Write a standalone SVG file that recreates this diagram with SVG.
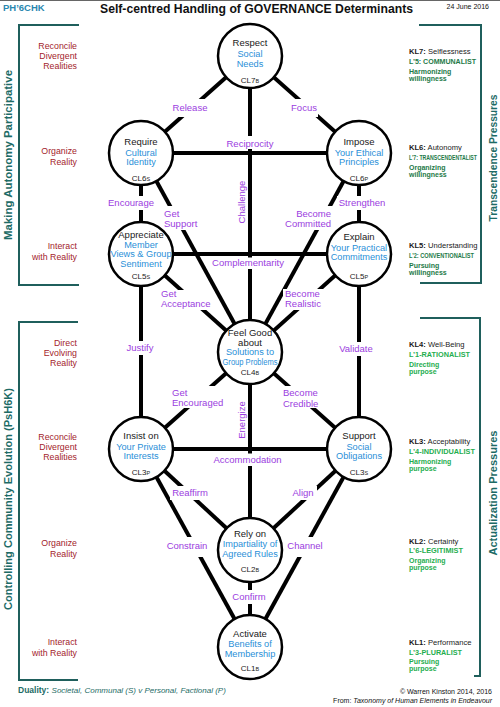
<svg xmlns="http://www.w3.org/2000/svg" width="500" height="707" viewBox="0 0 500 707">
<style>
text{font-family:"Liberation Sans",Arial,sans-serif}
.node circle{fill:#fff;stroke:#000;stroke-width:2.5}
.k{font-size:9.5px;fill:#1a1a1a;text-anchor:middle}
.b{font-size:9.2px;fill:#2a8fd8;text-anchor:middle}
.cl{font-size:8px;fill:#1a1a1a;text-anchor:middle}
.sub{font-size:5.5px}
.lb{font-size:9.5px;fill:#9b3de0}
.m{text-anchor:middle}
.e{text-anchor:end}
.red{font-size:8.8px;fill:#a3242c;text-anchor:end}
.kl{font-size:7.6px;fill:#1a1a1a}
.lg{font-size:8px;font-weight:bold}
.sm{font-size:7px;font-weight:bold}
.dg{fill:#1e7a48}
.bg{fill:#1fae4f}
.side{font-size:11px;font-weight:bold;fill:#1d6b66;text-anchor:middle}
.br{fill:none;stroke:#1f5f5c;stroke-width:2}
#connectors line{stroke:#000;stroke-width:4}
</style>
<defs>
<mask id="gaps" maskUnits="userSpaceOnUse" x="0" y="0" width="500" height="707">
<rect width="500" height="707" fill="#fff"/>
<g fill="#000">
<rect x="172" y="99" width="36" height="18"/>
<rect x="290" y="99" width="28" height="18"/>
<rect x="225" y="136" width="50" height="13"/>
<rect x="106" y="196" width="50" height="14"/>
<rect x="337" y="196" width="50" height="14"/>
<rect x="162" y="206" width="38" height="24"/>
<rect x="283" y="206" width="50" height="24"/>
<rect x="210" y="257.5" width="76" height="11.5"/>
<rect x="159" y="290" width="54" height="20"/>
<rect x="283" y="289" width="40" height="21"/>
<rect x="124" y="341" width="32" height="14"/>
<rect x="337" y="342" width="38" height="14"/>
<rect x="170" y="386" width="55" height="22"/>
<rect x="281" y="386" width="39" height="22"/>
<rect x="211" y="453.5" width="73" height="12.5"/>
<rect x="170" y="486" width="40" height="14"/>
<rect x="290" y="486" width="27" height="14"/>
<rect x="165" y="537" width="45" height="20"/>
<rect x="285" y="537" width="40" height="20"/>
<rect x="230" y="590" width="38" height="14"/>
</g>
</mask>
</defs>
<rect width="500" height="707" fill="#fff"/>
<line x1="0" y1="0.5" x2="500" y2="0.5" stroke="#666" stroke-width="1"/>

<g id="header">
<text x="3" y="11" font-size="9.5" font-weight="bold" fill="#2a88b0">PH’6CHK</text>
<text x="256.5" y="12.5" font-size="12.5" font-weight="bold" fill="#111" text-anchor="middle" textLength="313" lengthAdjust="spacingAndGlyphs">Self-centred Handling of GOVERNANCE Determinants</text>
<text x="489" y="8.5" font-size="7" fill="#111" text-anchor="end">24 June 2016</text>
</g>

<g id="brackets">
<path class="br" d="M79,25 H19 V285 H79"/>
<path class="br" d="M78,322 H19 V680 H78"/>
<path class="br" d="M419,25 H481 V283 H420"/>
<path class="br" d="M420,318 H480 V676 H474"/>
<text class="side" transform="translate(12,155) rotate(-90)" textLength="170" lengthAdjust="spacingAndGlyphs">Making Autonomy Participative</text>
<text class="side" transform="translate(12,499) rotate(-90)" textLength="222" lengthAdjust="spacingAndGlyphs">Controlling Community Evolution (PsH6K)</text>
<text class="side" transform="translate(497,158) rotate(-90)" textLength="127" lengthAdjust="spacingAndGlyphs">Transcendence Pressures</text>
<text class="side" transform="translate(497,493) rotate(-90)" textLength="125" lengthAdjust="spacingAndGlyphs">Actualization Pressures</text>
</g>

<g id="left-labels">
<text class="red" x="77" y="49">Reconcile</text>
<text class="red" x="77" y="59">Divergent</text>
<text class="red" x="77" y="69">Realities</text>
<text class="red" x="77" y="154">Organize</text>
<text class="red" x="77" y="165">Reality</text>
<text class="red" x="77" y="249">Interact</text>
<text class="red" x="77" y="260">with Reality</text>
<text class="red" x="77" y="346">Direct</text>
<text class="red" x="77" y="356">Evolving</text>
<text class="red" x="77" y="366">Reality</text>
<text class="red" x="77" y="440">Reconcile</text>
<text class="red" x="77" y="450">Divergent</text>
<text class="red" x="77" y="460">Realities</text>
<text class="red" x="77" y="546">Organize</text>
<text class="red" x="77" y="557">Reality</text>
<text class="red" x="77" y="645">Interact</text>
<text class="red" x="77" y="656">with Reality</text>
</g>

<g id="right-labels">
<text class="kl" x="409" y="54"><tspan font-weight="bold">KL7:</tspan> Selflessness</text>
<text class="lg dg" x="409" y="63.5" textLength="67" lengthAdjust="spacingAndGlyphs">L’5: COMMUNALIST</text>
<text class="sm dg" x="409" y="73.5">Harmonizing</text>
<text class="sm dg" x="409" y="81">willingness</text>

<text class="kl" x="409" y="150"><tspan font-weight="bold">KL6:</tspan> Autonomy</text>
<text class="lg dg" x="409" y="160" style="font-size:6.6px" textLength="68" lengthAdjust="spacingAndGlyphs">L’7: TRANSCENDENTALIST</text>
<text class="sm dg" x="409" y="169.5">Organizing</text>
<text class="sm dg" x="409" y="177">willingness</text>

<text class="kl" x="409" y="248"><tspan font-weight="bold">KL5:</tspan> Understanding</text>
<text class="lg dg" x="409" y="258" textLength="65" lengthAdjust="spacingAndGlyphs">L’2: CONVENTIONALIST</text>
<text class="sm dg" x="409" y="267.5">Pursuing</text>
<text class="sm dg" x="409" y="275">willingness</text>

<text class="kl" x="409" y="347"><tspan font-weight="bold">KL4:</tspan> Well-Being</text>
<text class="lg bg" x="409" y="357" textLength="61" lengthAdjust="spacingAndGlyphs">L’1-RATIONALIST</text>
<text class="sm bg" x="409" y="366.5">Directing</text>
<text class="sm bg" x="409" y="374">purpose</text>

<text class="kl" x="409" y="444"><tspan font-weight="bold">KL3:</tspan> Acceptability</text>
<text class="lg bg" x="409" y="454" textLength="66" lengthAdjust="spacingAndGlyphs">L’4-INDIVIDUALIST</text>
<text class="sm bg" x="409" y="463.5">Harmonizing</text>
<text class="sm bg" x="409" y="471">purpose</text>

<text class="kl" x="409" y="544"><tspan font-weight="bold">KL2:</tspan> Certainty</text>
<text class="lg bg" x="409" y="553" textLength="54" lengthAdjust="spacingAndGlyphs">L’6-LEGITIMIST</text>
<text class="sm bg" x="409" y="562.5">Organizing</text>
<text class="sm bg" x="409" y="570">purpose</text>

<text class="kl" x="409" y="645"><tspan font-weight="bold">KL1:</tspan> Performance</text>
<text class="lg bg" x="409" y="655" textLength="53" lengthAdjust="spacingAndGlyphs">L’3-PLURALIST</text>
<text class="sm bg" x="409" y="663.5">Pursuing</text>
<text class="sm bg" x="409" y="671">purpose</text>
</g>

<g id="connectors" mask="url(#gaps)">
<line x1="250" y1="56" x2="141" y2="153"/>
<line x1="250" y1="56" x2="359" y2="153"/>
<line x1="250" y1="56" x2="250" y2="352"/>
<line x1="141" y1="153" x2="359" y2="153"/>
<line x1="141" y1="153" x2="141" y2="449"/>
<line x1="359" y1="153" x2="359" y2="449"/>
<line x1="141" y1="153" x2="250" y2="352"/>
<line x1="359" y1="153" x2="250" y2="352"/>
<line x1="141" y1="254" x2="359" y2="254"/>
<line x1="141" y1="254" x2="250" y2="352"/>
<line x1="359" y1="254" x2="250" y2="352"/>
<line x1="250" y1="352" x2="141" y2="449"/>
<line x1="250" y1="352" x2="359" y2="449"/>
<line x1="250" y1="352" x2="250" y2="647"/>
<line x1="141" y1="449" x2="359" y2="449"/>
<line x1="141" y1="449" x2="250" y2="550"/>
<line x1="359" y1="449" x2="250" y2="550"/>
<line x1="141" y1="449" x2="250" y2="647"/>
<line x1="359" y1="449" x2="250" y2="647"/>
</g>

<g id="connector-labels">
<text class="lb m" x="190" y="111.3">Release</text>
<text class="lb m" x="304" y="111.3">Focus</text>
<text class="lb m" x="250" y="147.3">Reciprocity</text>
<text class="lb m" transform="translate(244.5,202) rotate(-90)">Challenge</text>
<text class="lb m" x="131" y="206.3">Encourage</text>
<text class="lb m" x="362" y="206.3">Strengthen</text>
<text class="lb" x="164" y="217.3">Get</text>
<text class="lb" x="164" y="227.3">Support</text>
<text class="lb e" x="331" y="217.3">Become</text>
<text class="lb e" x="331" y="227.3">Committed</text>
<text class="lb m" x="248" y="266.3">Complementarity</text>
<text class="lb" x="161" y="297.3">Get</text>
<text class="lb" x="161" y="307.3">Acceptance</text>
<text class="lb" x="285" y="297.3">Become</text>
<text class="lb" x="285" y="307.3">Realistic</text>
<text class="lb m" x="140" y="351.3">Justify</text>
<text class="lb m" x="356" y="352.3">Validate</text>
<text class="lb" x="172" y="396.3">Get</text>
<text class="lb" x="172" y="406.3">Encouraged</text>
<text class="lb" x="283" y="396.3">Become</text>
<text class="lb" x="283" y="407">Credible</text>
<text class="lb m" transform="translate(245,420) rotate(-90)">Energize</text>
<text class="lb m" x="247.5" y="463.3">Accommodation</text>
<text class="lb m" x="190" y="496.3">Reaffirm</text>
<text class="lb m" x="303" y="496.3">Align</text>
<text class="lb m" x="187" y="549.3">Constrain</text>
<text class="lb m" x="305" y="549.3">Channel</text>
<text class="lb m" x="249" y="600.3">Confirm</text>
</g>

<g id="cl7b" class="node">
<circle cx="250" cy="56" r="32"/>
<text class="k" x="250" y="46">Respect</text>
<text class="b" x="250" y="56.5">Social</text>
<text class="b" x="250" y="66.5">Needs</text>
<text class="cl" x="250" y="83">CL7<tspan class="sub">B</tspan></text>
</g>
<g id="cl6s" class="node">
<circle cx="141" cy="153" r="32"/>
<text class="k" x="141" y="145">Require</text>
<text class="b" x="141" y="155.5">Cultural</text>
<text class="b" x="141" y="165.3">Identity</text>
<text class="cl" x="141" y="181">CL6<tspan class="sub">S</tspan></text>
</g>
<g id="cl6p" class="node">
<circle cx="359" cy="153" r="32"/>
<text class="k" x="359" y="145">Impose</text>
<text class="b" x="359" y="155.5">Your Ethical</text>
<text class="b" x="359" y="165.3">Principles</text>
<text class="cl" x="359" y="181">CL6<tspan class="sub">P</tspan></text>
</g>
<g id="cl5s" class="node">
<circle cx="141" cy="254" r="32"/>
<text class="k" x="141" y="237.5">Appreciate</text>
<text class="b" x="141" y="247.5">Member</text>
<text class="b" x="141" y="257.2">Views &amp; Group</text>
<text class="b" x="141" y="266.8">Sentiment</text>
<text class="cl" x="141" y="278.5">CL5<tspan class="sub">S</tspan></text>
</g>
<g id="cl5p" class="node">
<circle cx="359" cy="254" r="32"/>
<text class="k" x="359" y="240">Explain</text>
<text class="b" x="359" y="250.5">Your Practical</text>
<text class="b" x="359" y="260.2">Commitments</text>
<text class="cl" x="359" y="278.5">CL5<tspan class="sub">P</tspan></text>
</g>
<g id="cl4b" class="node">
<circle cx="250" cy="352" r="32"/>
<text class="k" x="250" y="335.5">Feel Good</text>
<text class="k" x="250" y="345.5">about</text>
<text class="b" x="250" y="355.2">Solutions to</text>
<text class="b" x="250" y="364.8" textLength="55" lengthAdjust="spacingAndGlyphs">Group Problems</text>
<text class="cl" x="250" y="375">CL4<tspan class="sub">B</tspan></text>
</g>
<g id="cl3p" class="node">
<circle cx="141" cy="449" r="32"/>
<text class="k" x="141" y="439">Insist on</text>
<text class="b" x="141" y="449.5">Your Private</text>
<text class="b" x="141" y="459.2">Interests</text>
<text class="cl" x="141" y="475">CL3<tspan class="sub">P</tspan></text>
</g>
<g id="cl3s" class="node">
<circle cx="359" cy="449" r="32"/>
<text class="k" x="359" y="439">Support</text>
<text class="b" x="359" y="449.5">Social</text>
<text class="b" x="359" y="459.2">Obligations</text>
<text class="cl" x="359" y="475">CL3<tspan class="sub">S</tspan></text>
</g>
<g id="cl2b" class="node">
<circle cx="250" cy="550" r="32"/>
<text class="k" x="250" y="537">Rely on</text>
<text class="b" x="250" y="547">Impartiality of</text>
<text class="b" x="250" y="556.7">Agreed Rules</text>
<text class="cl" x="250" y="572">CL2<tspan class="sub">B</tspan></text>
</g>
<g id="cl1b" class="node">
<circle cx="250" cy="647" r="32"/>
<text class="k" x="250" y="637">Activate</text>
<text class="b" x="250" y="647">Benefits of</text>
<text class="b" x="250" y="656.7">Membership</text>
<text class="cl" x="250" y="671">CL1<tspan class="sub">B</tspan></text>
</g>

<g id="footer">
<text x="18" y="693" font-size="8.5" fill="#1d6b66"><tspan font-weight="bold">Duality:</tspan> <tspan font-style="italic" font-size="8">Societal, Communal (S)  v  Personal, Factional (P)</tspan></text>
<text x="492" y="694" font-size="7" fill="#111" text-anchor="end">© Warren Kinston 2014, 2016</text>
<text x="492" y="703" font-size="7" fill="#111" text-anchor="end">From: <tspan font-style="italic">Taxonomy of Human Elements in Endeavour</tspan></text>
</g>
</svg>
